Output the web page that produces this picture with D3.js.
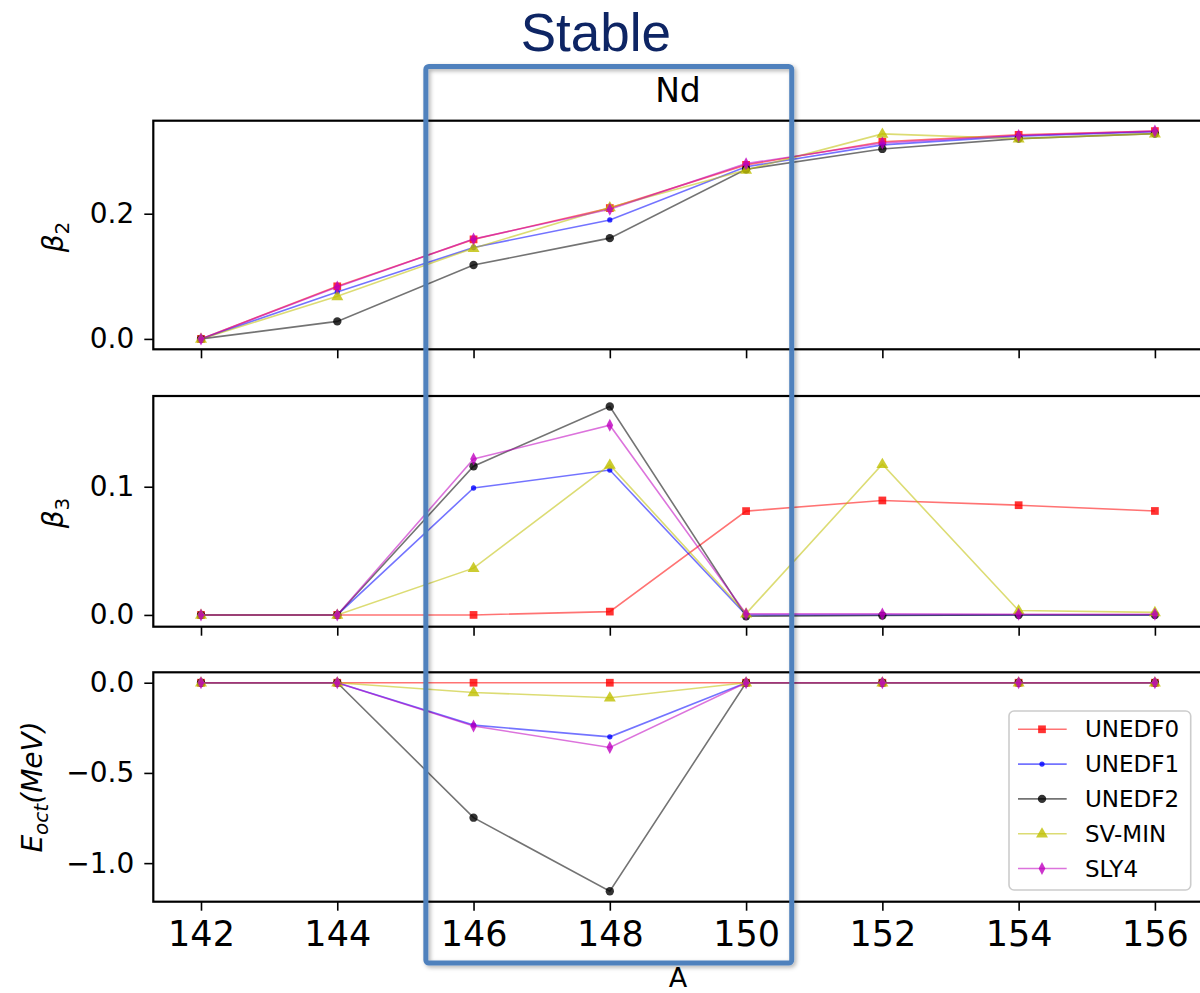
<!DOCTYPE html>
<html>
<head>
<meta charset="utf-8">
<script src="https://cdn.jsdelivr.net/npm/d3@7"></script>
<style>
  body { margin: 0; background: #fff; }
  svg { display: block; }
</style>
</head>
<body>
<div id="draw"><svg></svg></div>
<script>
// mass numbers (x axis)
var massNumbers = [142, 144, 146, 148, 150, 152, 154, 156];
var models = ["UNEDF0", "UNEDF1", "UNEDF2", "SV-MIN", "SLY4"];

// beta2, one row per model
var beta2 = [
    [0, 0.084, 0.159, 0.209, 0.278, 0.315, 0.326, 0.332],
    [0, 0.075, 0.146, 0.190, 0.275, 0.310, 0.324, 0.331],
    [0, 0.028, 0.118, 0.161, 0.271, 0.3035, 0.320, 0.328],
    [0, 0.068, 0.145, 0.210, 0.270, 0.3275, 0.320, 0.328],
    [0, 0.083, 0.1595, 0.207, 0.280, 0.313, 0.325, 0.332]
];
// beta3
var beta3 = [
    [0, 0, 0, 0.0026, 0.081, 0.0893, 0.0856, 0.0811],
    [0, 0, 0.099, 0.113, 0, 0, 0, 0],
    [0, 0, 0.116, 0.1626, -0.001, -0.0005, 0, 0],
    [0, 0, 0.0365, 0.117, 0.001, 0.1175, 0.0034, 0.002],
    [0, 0, 0.1216, 0.148, 0.0008, 0.0008, 0.0005, 0.0005]
];
// octupole energy (MeV)
var eOct = [
    [0, 0, 0, 0, 0, 0, 0, 0],
    [0, 0, -0.235, -0.300, 0, 0, 0, 0],
    [0, 0, -0.748, -1.156, 0, 0, 0, 0],
    [0, 0, -0.054, -0.083, 0, 0, 0, 0],
    [0, 0, -0.240, -0.359, 0, 0, 0, 0]
];

var xTicks = [142, 144, 146, 148, 150, 152, 154, 156];
var beta2Ticks = [0, 0.2];
var beta3Ticks = [0, 0.1];
var eOctTicks = [0, -0.5, -1.0];
var stableRange = [145.3, 150.67];   // blue box, in A units

var colors = ["#ff0000", "#0000ff", "#000000", "#bfbf00", "#bf00bf"];
var markers = ["square", "point", "circle", "triangle", "thin_diamond"];

var W = 1200, H = 993;
var left = 153.3, right = 1202.6;
var panels = [
    {top: 120.7, bottom: 349.3, values: beta2, ticks: beta2Ticks},
    {top: 396, bottom: 626.7, values: beta3, ticks: beta3Ticks},
    {top: 672.3, bottom: 901.7, values: eOct, ticks: eOctTicks}
];

var svg = d3.select("#draw svg")
    .attr("width", W)
    .attr("height", H)
    .attr("font-family", "DejaVu Sans, sans-serif");

var defs = svg.append("defs");
var shadow = defs.append("filter").attr("id", "shadow")
    .attr("x", "-5%").attr("y", "-5%").attr("width", "110%").attr("height", "110%");
shadow.append("feDropShadow")
    .attr("dx", 2).attr("dy", 2).attr("stdDeviation", 2)
    .attr("flood-color", "#000").attr("flood-opacity", 0.3);

// matplotlib style x range: 5% margins
var xExt = d3.extent(massNumbers);
var xPad = (xExt[1] - xExt[0]) * 0.05;
var x = d3.scaleLinear().domain([xExt[0] - xPad, xExt[1] + xPad]).range([left, right]);

function markerPath(type) {
    if (type === "square") return d3.symbol(d3.symbolSquare, 60)();
    if (type === "point") return d3.symbol(d3.symbolCircle, 22)();
    if (type === "circle") return d3.symbol(d3.symbolCircle, 55)();
    if (type === "triangle") return "M0,-6.5L6,3.8L-6,3.8Z";
    return "M0,-6.5L3.4,0L0,6.5L-3.4,0Z";
}

panels.forEach(function(p, pi) {
    var all = d3.merge(p.values);
    var ext = d3.extent(all);
    var pad = (ext[1] - ext[0]) * 0.05;
    var y = d3.scaleLinear().domain([ext[0] - pad, ext[1] + pad]).range([p.bottom, p.top]);
    var g = svg.append("g");

    //数据线
    var line = d3.line()
        .x(function(d, i) { return x(massNumbers[i]); })
        .y(function(d) { return y(d); });
    p.values.forEach(function(row, mi) {
        g.append("path")
            .attr("d", line(row))
            .attr("fill", "none")
            .attr("stroke", colors[mi])
            .attr("stroke-opacity", 0.55)
            .attr("stroke-width", 1.6);
        g.selectAll(".m" + mi)
            .data(row)
            .enter()
            .append("path")
            .attr("class", "m" + mi)
            .attr("d", markerPath(markers[mi]))
            .attr("transform", function(d, i) {
                return "translate(" + x(massNumbers[i]) + "," + y(d) + ")";
            })
            .attr("fill", colors[mi])
            .attr("fill-opacity", 0.8);
    });

    //坐标轴
    var yAxis = d3.axisLeft(y).tickValues(p.ticks).tickSize(9).tickPadding(10)
        .tickFormat(d3.format(".1f"));
    var ya = svg.append("g").attr("transform", "translate(" + left + ",0)").call(yAxis);
    ya.select(".domain").remove();
    ya.selectAll("line").attr("stroke", "#000").attr("stroke-width", 1.6);
    ya.selectAll("text").attr("font-size", 28).attr("fill", "#000")
        .attr("font-family", "DejaVu Sans, sans-serif");

    var xAxis = d3.axisBottom(x).tickValues(xTicks).tickSize(9).tickPadding(10)
        .tickFormat(pi === 2 ? d3.format("d") : "");
    var xa = svg.append("g").attr("transform", "translate(0," + p.bottom + ")").call(xAxis);
    xa.select(".domain").remove();
    xa.selectAll("line").attr("stroke", "#000").attr("stroke-width", 1.6);
    xa.selectAll("text").attr("font-size", 35).attr("fill", "#000")
        .attr("font-family", "DejaVu Sans, sans-serif");

    svg.append("rect")
        .attr("x", left).attr("y", p.top)
        .attr("width", right - left).attr("height", p.bottom - p.top)
        .attr("fill", "none").attr("stroke", "#000").attr("stroke-width", 2.2);
});

// y labels
function yLabel(cx, cy, parts) {
    var t = svg.append("text")
        .attr("transform", "translate(" + cx + "," + cy + ") rotate(-90)")
        .attr("text-anchor", "middle")
        .attr("font-size", 28)
        .attr("fill", "#000");
    parts.forEach(function(pt) {
        var s = t.append("tspan").text(pt.t);
        if (pt.i) s.attr("font-style", "italic");
        if (pt.sub) s.attr("font-size", 20).attr("dy", 6);
        if (pt.up) s.attr("dy", -6);
    });
}
yLabel(63, 237, [{t: "β", i: 1}, {t: "2", sub: 1}]);
yLabel(63, 513, [{t: "β", i: 1}, {t: "3", sub: 1}]);
yLabel(42, 787, [{t: "E", i: 1}, {t: "oct", i: 1, sub: 1}, {t: "(MeV)", i: 1, up: 1}]);

// title and x label
svg.append("text").attr("x", (left + right) / 2).attr("y", 102)
    .attr("text-anchor", "middle").attr("font-size", 33).text("Nd");
svg.append("text").attr("x", (left + right) / 2).attr("y", 987)
    .attr("text-anchor", "middle").attr("font-size", 27).text("A");

// legend
var lg = svg.append("g");
lg.append("rect")
    .attr("x", 1009).attr("y", 711).attr("width", 181.7).attr("height", 179)
    .attr("rx", 5).attr("fill", "#fff").attr("fill-opacity", 0.8)
    .attr("stroke", "#cccccc").attr("stroke-width", 1.6);
models.forEach(function(name, mi) {
    var ly = 729.3 + mi * 34.8;
    lg.append("line")
        .attr("x1", 1018).attr("x2", 1066.7).attr("y1", ly).attr("y2", ly)
        .attr("stroke", colors[mi]).attr("stroke-opacity", 0.55).attr("stroke-width", 1.6);
    lg.append("path")
        .attr("d", markerPath(markers[mi]))
        .attr("transform", "translate(1042," + ly + ")")
        .attr("fill", colors[mi]).attr("fill-opacity", 0.8);
    lg.append("text")
        .attr("x", 1085).attr("y", ly + 8)
        .attr("font-size", 23).attr("fill", "#000").text(name);
});

// Stable annotation
var bx0 = x(stableRange[0]), bx1 = x(stableRange[1]);
svg.append("rect")
    .attr("x", bx0).attr("y", 66.5)
    .attr("width", bx1 - bx0).attr("height", 963 - 66.5)
    .attr("rx", 3)
    .attr("fill", "none")
    .attr("stroke", "#4f81bd")
    .attr("stroke-width", 5)
    .attr("filter", "url(#shadow)");
svg.append("text")
    .attr("x", (bx0 + bx1) / 2 - 13).attr("y", 51)
    .attr("text-anchor", "middle")
    .attr("font-family", "Liberation Sans, Arial, sans-serif")
    .attr("font-size", 53)
    .attr("fill", "#0e2564")
    .text("Stable");
</script>
</body>
</html>
